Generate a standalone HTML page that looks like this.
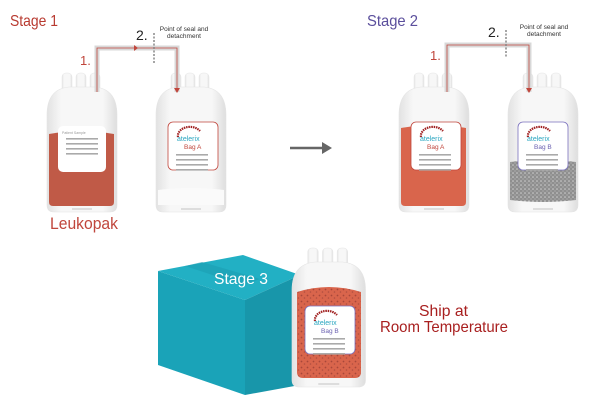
<!DOCTYPE html>
<html><head><meta charset="utf-8"><style>
html,body{margin:0;padding:0;background:#fff;}
svg{display:block;font-family:"Liberation Sans",sans-serif;}
</style></head><body>
<svg width="600" height="401" viewBox="0 0 600 401" xmlns="http://www.w3.org/2000/svg">
<defs>
<linearGradient id="bg" x1="0" x2="1" y1="0" y2="0">
<stop offset="0" stop-color="#e2e2e2"/><stop offset="0.2" stop-color="#f7f7f7"/><stop offset="0.8" stop-color="#f7f7f7"/><stop offset="1" stop-color="#dedede"/></linearGradient>
<pattern id="dots" width="6" height="6" patternUnits="userSpaceOnUse">
<rect width="6" height="6" fill="#d9654c"/><circle cx="1.5" cy="1.5" r="0.9" fill="#a8473a"/><circle cx="4.5" cy="4" r="0.8" fill="#b04e40"/></pattern>
<pattern id="gdots" width="4" height="4" patternUnits="userSpaceOnUse">
<rect width="4" height="4" fill="#8f8f8f"/><circle cx="1" cy="1" r="0.8" fill="#d0d0d0"/><circle cx="3" cy="3" r="0.6" fill="#bbb"/></pattern>
<g id="bag">
<rect x="15" y="0" width="10" height="22" rx="4" fill="url(#bg)" stroke="#e6e6e6" stroke-width="0.5"/>
<rect x="29" y="0" width="10" height="22" rx="4" fill="url(#bg)" stroke="#e6e6e6" stroke-width="0.5"/>
<rect x="43" y="0" width="10" height="22" rx="4" fill="url(#bg)" stroke="#e6e6e6" stroke-width="0.5"/>
<path d="M0,42 Q0,16 22,14 L48,14 Q70,16 70,42 L70,132 Q70,139 63,139 L7,139 Q0,139 0,132 Z" fill="url(#bg)" stroke="#e4e4e4" stroke-width="0.6"/>
<rect x="25" y="135" width="20" height="2" fill="#ddd"/>
</g>
<g id="lines">
<rect x="0" y="0" width="32" height="1.6" fill="#aaa"/>
<rect x="0" y="5" width="32" height="1.6" fill="#aaa"/>
<rect x="0" y="10" width="32" height="1.6" fill="#aaa"/>
<rect x="0" y="15" width="32" height="1.6" fill="#aaa"/>
</g>
</defs>

<!-- Stage 1 -->
<text x="10" y="26" font-size="16" fill="#b83a30" textLength="48" lengthAdjust="spacingAndGlyphs">Stage 1</text>
<use href="#bag" x="47" y="73"/>
<path d="M49,134 Q81,128 114,134 L114,202 Q114,206 110,206 L53,206 Q49,206 49,202 Z" fill="#c05a47"/>
<rect x="58" y="126" width="48" height="46" rx="5" fill="#fff"/>
<text x="62" y="134" font-size="3.5" fill="#999">Patient Sample</text>
<use href="#lines" x="66" y="138"/>
<use href="#bag" x="156" y="73"/>
<path d="M158,190 Q191,186 224,190 L224,205 L158,205Z" fill="#fafafa"/>
<rect x="168" y="122" width="50" height="48" rx="5" fill="#fff" stroke="#c0463c" stroke-width="0.8"/>
<path d="M178,137 A12,9 0 0 1 200,131" fill="none" stroke="#a02020" stroke-width="2.2" stroke-dasharray="1.5,0.8"/>
<text x="177" y="141" font-size="7" fill="#2aa6c0">atelerix</text>
<text x="184" y="149" font-size="6.5" fill="#c0463c">Bag A</text>
<use href="#lines" x="176" y="154"/>
<path d="M97,92 L97,48 L177,48 L177,92" fill="none" stroke="#d8d8d8" stroke-width="5"/>
<path d="M97,92 L97,48 L177,48 L177,92" fill="none" stroke="#c0463c" stroke-width="0.8"/>
<polygon points="134,45 138,48 134,51" fill="#c0463c"/>
<polygon points="174,88 180,88 177,93" fill="#c0463c"/>
<line x1="154" y1="33" x2="154" y2="63" stroke="#888" stroke-width="1.5" stroke-dasharray="2,1.5"/>
<text x="80" y="65" font-size="13" fill="#c0463c">1.</text>
<text x="136" y="40" font-size="14" fill="#222">2.</text>
<text x="184" y="31" font-size="6.5" fill="#333" text-anchor="middle">Point of seal and</text>
<text x="184" y="38" font-size="6.5" fill="#333" text-anchor="middle">detachment</text>
<text x="50" y="229" font-size="17" fill="#c0463c" textLength="68" lengthAdjust="spacingAndGlyphs">Leukopak</text>

<!-- arrow -->
<line x1="290" y1="148" x2="324" y2="148" stroke="#666" stroke-width="2.5"/>
<polygon points="322,142 332,148 322,154" fill="#666"/>

<!-- Stage 2 -->
<text x="367" y="26" font-size="16" fill="#5b4f9c" textLength="51" lengthAdjust="spacingAndGlyphs">Stage 2</text>
<use href="#bag" x="399" y="73"/>
<path d="M401,128 Q434,122 466,128 L466,202 Q466,206 462,206 L405,206 Q401,206 401,202 Z" fill="#d9654c"/>
<rect x="411" y="122" width="50" height="48" rx="5" fill="#fff" stroke="#c0463c" stroke-width="0.8"/>
<path d="M421,137 A12,9 0 0 1 443,131" fill="none" stroke="#a02020" stroke-width="2.2" stroke-dasharray="1.5,0.8"/>
<text x="420" y="141" font-size="7" fill="#2aa6c0">atelerix</text>
<text x="427" y="149" font-size="6.5" fill="#c0463c">Bag A</text>
<use href="#lines" x="419" y="154"/>
<use href="#bag" x="508" y="73"/>
<path d="M510,162 Q543,158 576,162 L576,200 Q543,204 510,200Z" fill="url(#gdots)"/>
<rect x="518" y="122" width="50" height="48" rx="5" fill="#fff" stroke="#7a70bd" stroke-width="0.8"/>
<path d="M528,137 A12,9 0 0 1 550,131" fill="none" stroke="#a02020" stroke-width="2.2" stroke-dasharray="1.5,0.8"/>
<text x="527" y="141" font-size="7" fill="#2aa6c0">atelerix</text>
<text x="534" y="149" font-size="6.5" fill="#6a60b0">Bag B</text>
<use href="#lines" x="526" y="154"/>
<path d="M447,92 L447,45 L529,45 L529,92" fill="none" stroke="#d8d8d8" stroke-width="5"/>
<path d="M447,92 L447,45 L529,45 L529,92" fill="none" stroke="#c0463c" stroke-width="0.8"/>
<polygon points="526,88 532,88 529,93" fill="#c0463c"/>
<line x1="506" y1="30" x2="506" y2="58" stroke="#888" stroke-width="1.5" stroke-dasharray="2,1.5"/>
<text x="430" y="60" font-size="13" fill="#c0463c">1.</text>
<text x="488" y="37" font-size="14" fill="#222">2.</text>
<text x="544" y="29" font-size="6.5" fill="#333" text-anchor="middle">Point of seal and</text>
<text x="544" y="36" font-size="6.5" fill="#333" text-anchor="middle">detachment</text>

<!-- Stage 3 box -->
<polygon points="158,271 245,300 245,395 158,365" fill="#1aa3b8"/>
<polygon points="158,271 243,255 300,275 245,300" fill="#22b0c4"/>
<polygon points="245,300 300,275 300,385 245,395" fill="#1896aa"/>
<polygon points="185,266 243,285 260,279 202,262" fill="#1c9fb2" opacity="0.6"/>
<text x="214" y="284" font-size="16" fill="#fff" textLength="54" lengthAdjust="spacingAndGlyphs">Stage 3</text>
<use href="#bag" x="292" y="248" transform="translate(292,248) scale(1.05,1) translate(-292,-248)"/>
<path d="M297,292 Q329,282 361,292 L361,372 Q361,378 355,378 L303,378 Q297,378 297,372 Z" fill="url(#dots)"/>
<rect x="305" y="306" width="50" height="48" rx="5" fill="#fff" stroke="#7a70bd" stroke-width="0.8"/>
<path d="M315,321 A12,9 0 0 1 337,315" fill="none" stroke="#a02020" stroke-width="2.2" stroke-dasharray="1.5,0.8"/>
<text x="314" y="325" font-size="7" fill="#2aa6c0">atelerix</text>
<text x="321" y="333" font-size="6.5" fill="#6a60b0">Bag B</text>
<use href="#lines" x="313" y="338"/>
<text x="419" y="316" font-size="16" fill="#a81f1f" textLength="49" lengthAdjust="spacingAndGlyphs">Ship at</text>
<text x="380" y="332" font-size="16" fill="#a81f1f" textLength="128" lengthAdjust="spacingAndGlyphs">Room Temperature</text>
</svg>
</body></html>
